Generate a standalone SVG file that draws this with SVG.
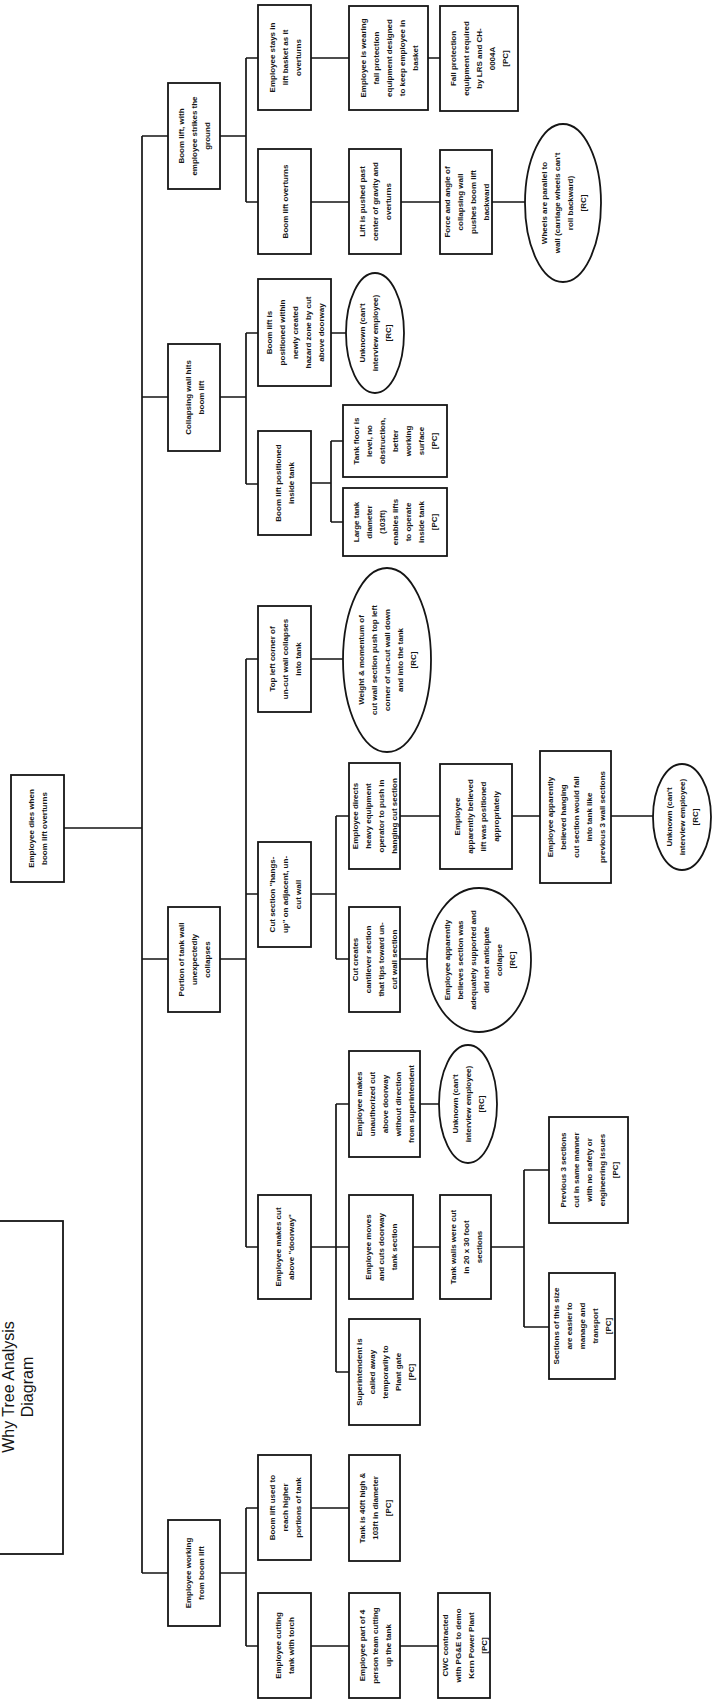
<svg xmlns="http://www.w3.org/2000/svg" width="712" height="1702" viewBox="0 0 712 1702">
<style>
.bg{fill:#fff}
.box{fill:#fff;stroke:#151515;stroke-width:1.8}
.c{fill:none;stroke:#151515;stroke-width:1.7}
.t{font-family:"Liberation Sans",Arial,sans-serif;font-weight:bold;font-size:8px;fill:#151515;text-anchor:middle}
.title{font-family:"Liberation Sans",Arial,sans-serif;font-size:16px;fill:#151515;text-anchor:middle}
</style>
<rect class="bg" x="0" y="0" width="712" height="1702"/>
<g id="connectors">
<path class="c" d="M142,136 V1573 M142,136 H168 M142,397 H168 M142,959 H168 M142,1573 H168 M64,828 H142"/>
<path class="c" d="M220,136 H246 M246,58 V202 M246,58 H258 M246,202 H258 M311,58 H349 M428,58 H440 M311,202 H349 M401,202 H440 M492,202 H525"/>
<path class="c" d="M220,397 H246 M246,333 V484 M246,333 H258 M246,484 H258 M331,333 H346 M311,483 H331 M331,441 V522 M331,441 H343 M331,522 H343"/>
<path class="c" d="M220,959 H246 M246,659 V1247 M246,659 H258 M246,894 H258 M246,1247 H258 M311,659 H343 M311,894 H336 M336,816 V959 M336,816 H349 M336,959 H349 M400,816 H440 M512,816 H540 M611,816 H653 M400,959 H427"/>
<path class="c" d="M311,1247 H349 M336,1104 V1372 M336,1104 H349 M336,1372 H349 M420,1104 H439 M413,1247 H440 M491,1247 H524 M524,1170 V1327 M524,1170 H549 M524,1327 H549"/>
<path class="c" d="M220,1573 H246 M246,1508 V1646 M246,1508 H258 M246,1646 H258 M311,1508 H349 M311,1646 H349 M400,1646 H438"/>
</g>
<g id="title">
<rect class="box" x="-5" y="1221" width="68" height="333"/>
<text class="title" transform="translate(0,1387) rotate(-90)"><tspan x="0" y="14">Why Tree Analysis</tspan><tspan x="0" y="33">Diagram</tspan></text>
</g>
<g id="root">
<rect class="box" x="11" y="775" width="53" height="107"/>
<text class="t" transform="translate(37.5,828.5) rotate(-90)"><tspan x="0" y="-3.5">Employee dies when</tspan><tspan x="0" y="9.5">boom lift overturns</tspan></text>
</g>
<g id="n-strikes-ground">
<rect class="box" x="168" y="83" width="52" height="106"/>
<text class="t" transform="translate(194,136) rotate(-90)"><tspan x="0" y="-10">Boom lift, with</tspan><tspan x="0" y="3">employee strikes the</tspan><tspan x="0" y="16">ground</tspan></text>
</g>
<g id="n-wall-hits">
<rect class="box" x="168" y="344" width="52" height="107"/>
<text class="t" transform="translate(194,397.5) rotate(-90)"><tspan x="0" y="-3.5">Collapsing wall hits</tspan><tspan x="0" y="9.5">boom lift</tspan></text>
</g>
<g id="n-wall-collapses">
<rect class="box" x="168" y="907" width="52" height="105"/>
<text class="t" transform="translate(194,959.5) rotate(-90)"><tspan x="0" y="-10">Portion of tank wall</tspan><tspan x="0" y="3">unexpectedly</tspan><tspan x="0" y="16">collapses</tspan></text>
</g>
<g id="n-working-lift">
<rect class="box" x="168" y="1520" width="52" height="106"/>
<text class="t" transform="translate(194,1573) rotate(-90)"><tspan x="0" y="-3.5">Employee working</tspan><tspan x="0" y="9.5">from boom lift</tspan></text>
</g>
<g id="n-stays-basket">
<rect class="box" x="258" y="5" width="53" height="105"/>
<text class="t" transform="translate(284.5,57.5) rotate(-90)"><tspan x="0" y="-10">Employee stays in</tspan><tspan x="0" y="3">lift basket as it</tspan><tspan x="0" y="16">overturns</tspan></text>
</g>
<g id="n-wearing-fp">
<rect class="box" x="349" y="6" width="79" height="104"/>
<text class="t" transform="translate(388.5,58) rotate(-90)"><tspan x="0" y="-23">Employee is wearing</tspan><tspan x="0" y="-10">fall protection</tspan><tspan x="0" y="3">equipment designed</tspan><tspan x="0" y="16">to keep employee in</tspan><tspan x="0" y="29">basket</tspan></text>
</g>
<g id="n-fp-required">
<rect class="box" x="440" y="6" width="78" height="105"/>
<text class="t" transform="translate(479,58.5) rotate(-90)"><tspan x="0" y="-23">Fall protection</tspan><tspan x="0" y="-10">equipment required</tspan><tspan x="0" y="3">by LRS and CH-</tspan><tspan x="0" y="16">0004A</tspan><tspan x="0" y="29">[PC]</tspan></text>
</g>
<g id="n-lift-overturns">
<rect class="box" x="258" y="149" width="53" height="105"/>
<text class="t" transform="translate(284.5,201.5) rotate(-90)"><tspan x="0" y="3">Boom lift overturns</tspan></text>
</g>
<g id="n-pushed-cog">
<rect class="box" x="349" y="149" width="52" height="105"/>
<text class="t" transform="translate(375,201.5) rotate(-90)"><tspan x="0" y="-10">Lift is pushed past</tspan><tspan x="0" y="3">center of gravity and</tspan><tspan x="0" y="16">overturns</tspan></text>
</g>
<g id="n-force-angle">
<rect class="box" x="440" y="150" width="52" height="104"/>
<text class="t" transform="translate(466,202) rotate(-90)"><tspan x="0" y="-16.5">Force and angle of</tspan><tspan x="0" y="-3.5">collapsing wall</tspan><tspan x="0" y="9.5">pushes boom lift</tspan><tspan x="0" y="22.5">backward</tspan></text>
</g>
<g id="n-wheels">
<ellipse class="box" cx="563" cy="203" rx="38" ry="79"/>
<text class="t" transform="translate(563,203) rotate(-90)"><tspan x="0" y="-16.5">Wheels are parallel to</tspan><tspan x="0" y="-3.5">wall (carriage wheels can't</tspan><tspan x="0" y="9.5">roll backward)</tspan><tspan x="0" y="22.5">[RC]</tspan></text>
</g>
<g id="n-hazard-zone">
<rect class="box" x="258" y="279" width="73" height="107"/>
<text class="t" transform="translate(294.5,332.5) rotate(-90)"><tspan x="0" y="-23">Boom lift is</tspan><tspan x="0" y="-10">positioned within</tspan><tspan x="0" y="3">newly created</tspan><tspan x="0" y="16">hazard zone by cut</tspan><tspan x="0" y="29">above doorway</tspan></text>
</g>
<g id="n-unknown-1">
<ellipse class="box" cx="375" cy="333" rx="29" ry="60"/>
<text class="t" transform="translate(375,333) rotate(-90)"><tspan x="0" y="-10">Unknown (can't</tspan><tspan x="0" y="3">interview employee)</tspan><tspan x="0" y="16">[RC]</tspan></text>
</g>
<g id="n-inside-tank">
<rect class="box" x="258" y="431" width="53" height="104"/>
<text class="t" transform="translate(284.5,483) rotate(-90)"><tspan x="0" y="-3.5">Boom lift positioned</tspan><tspan x="0" y="9.5">inside tank</tspan></text>
</g>
<g id="n-tank-floor">
<rect class="box" x="343" y="405" width="104" height="72"/>
<text class="t" transform="translate(395,441) rotate(-90)"><tspan x="0" y="-36">Tank floor is</tspan><tspan x="0" y="-23">level, no</tspan><tspan x="0" y="-10">obstruction,</tspan><tspan x="0" y="3">better</tspan><tspan x="0" y="16">working</tspan><tspan x="0" y="29">surface</tspan><tspan x="0" y="42">[PC]</tspan></text>
</g>
<g id="n-tank-diameter">
<rect class="box" x="343" y="488" width="104" height="68"/>
<text class="t" transform="translate(395,522) rotate(-90)"><tspan x="0" y="-36">Large tank</tspan><tspan x="0" y="-23">diameter</tspan><tspan x="0" y="-10">(103ft)</tspan><tspan x="0" y="3">enables lifts</tspan><tspan x="0" y="16">to operate</tspan><tspan x="0" y="29">inside tank</tspan><tspan x="0" y="42">[PC]</tspan></text>
</g>
<g id="n-top-left-corner">
<rect class="box" x="258" y="606" width="53" height="106"/>
<text class="t" transform="translate(284.5,659) rotate(-90)"><tspan x="0" y="-10">Top left corner of</tspan><tspan x="0" y="3">un-cut wall collapses</tspan><tspan x="0" y="16">into tank</tspan></text>
</g>
<g id="n-weight-momentum">
<ellipse class="box" cx="387" cy="660" rx="44" ry="92"/>
<text class="t" transform="translate(387,660) rotate(-90)"><tspan x="0" y="-23">Weight &amp; momentum of</tspan><tspan x="0" y="-10">cut wall section push top left</tspan><tspan x="0" y="3">corner of un-cut wall down</tspan><tspan x="0" y="16">and into the tank</tspan><tspan x="0" y="29">[RC]</tspan></text>
</g>
<g id="n-hangs-up">
<rect class="box" x="258" y="842" width="53" height="105"/>
<text class="t" transform="translate(284.5,894.5) rotate(-90)"><tspan x="0" y="-10">Cut section "hangs-</tspan><tspan x="0" y="3">up" on adjacent, un-</tspan><tspan x="0" y="16">cut wall</tspan></text>
</g>
<g id="n-directs-operator">
<rect class="box" x="349" y="763" width="51" height="106"/>
<text class="t" transform="translate(374.5,816) rotate(-90)"><tspan x="0" y="-16.5">Employee directs</tspan><tspan x="0" y="-3.5">heavy equipment</tspan><tspan x="0" y="9.5">operator to push in</tspan><tspan x="0" y="22.5">hanging cut section</tspan></text>
</g>
<g id="n-believed-lift">
<rect class="box" x="440" y="764" width="72" height="105"/>
<text class="t" transform="translate(476,816.5) rotate(-90)"><tspan x="0" y="-16.5">Employee</tspan><tspan x="0" y="-3.5">apparently believed</tspan><tspan x="0" y="9.5">lift was positioned</tspan><tspan x="0" y="22.5">appropriately</tspan></text>
</g>
<g id="n-believed-fall">
<rect class="box" x="540" y="751" width="71" height="132"/>
<text class="t" transform="translate(575.5,817) rotate(-90)"><tspan x="0" y="-23">Employee apparently</tspan><tspan x="0" y="-10">believed hanging</tspan><tspan x="0" y="3">cut section would fall</tspan><tspan x="0" y="16">into tank like</tspan><tspan x="0" y="29">previous 3 wall sections</tspan></text>
</g>
<g id="n-unknown-2">
<ellipse class="box" cx="682" cy="817" rx="29" ry="53"/>
<text class="t" transform="translate(682,817) rotate(-90)"><tspan x="0" y="-10">Unknown (can't</tspan><tspan x="0" y="3">interview employee)</tspan><tspan x="0" y="16">[RC]</tspan></text>
</g>
<g id="n-cantilever">
<rect class="box" x="349" y="907" width="51" height="105"/>
<text class="t" transform="translate(374.5,959.5) rotate(-90)"><tspan x="0" y="-16.5">Cut creates</tspan><tspan x="0" y="-3.5">cantilever section</tspan><tspan x="0" y="9.5">that tips toward un-</tspan><tspan x="0" y="22.5">cut wall section</tspan></text>
</g>
<g id="n-believes-supported">
<ellipse class="box" cx="479" cy="960" rx="52" ry="72"/>
<text class="t" transform="translate(479,960) rotate(-90)"><tspan x="0" y="-29.5">Employee apparently</tspan><tspan x="0" y="-16.5">believes section was</tspan><tspan x="0" y="-3.5">adequately supported and</tspan><tspan x="0" y="9.5">did not anticipate</tspan><tspan x="0" y="22.5">collapse</tspan><tspan x="0" y="35.5">[RC]</tspan></text>
</g>
<g id="n-cut-doorway">
<rect class="box" x="258" y="1195" width="53" height="104"/>
<text class="t" transform="translate(284.5,1247) rotate(-90)"><tspan x="0" y="-3.5">Employee makes cut</tspan><tspan x="0" y="9.5">above "doorway"</tspan></text>
</g>
<g id="n-unauthorized">
<rect class="box" x="349" y="1051" width="71" height="106"/>
<text class="t" transform="translate(384.5,1104) rotate(-90)"><tspan x="0" y="-23">Employee makes</tspan><tspan x="0" y="-10">unauthorized cut</tspan><tspan x="0" y="3">above doorway</tspan><tspan x="0" y="16">without direction</tspan><tspan x="0" y="29">from superintendent</tspan></text>
</g>
<g id="n-unknown-3">
<ellipse class="box" cx="468" cy="1104" rx="29" ry="59"/>
<text class="t" transform="translate(468,1104) rotate(-90)"><tspan x="0" y="-10">Unknown (can't</tspan><tspan x="0" y="3">interview employee)</tspan><tspan x="0" y="16">[RC]</tspan></text>
</g>
<g id="n-moves-cuts">
<rect class="box" x="349" y="1195" width="64" height="104"/>
<text class="t" transform="translate(381,1247) rotate(-90)"><tspan x="0" y="-10">Employee moves</tspan><tspan x="0" y="3">and cuts doorway</tspan><tspan x="0" y="16">tank section</tspan></text>
</g>
<g id="n-walls-cut">
<rect class="box" x="440" y="1195" width="51" height="104"/>
<text class="t" transform="translate(465.5,1247) rotate(-90)"><tspan x="0" y="-10">Tank walls were cut</tspan><tspan x="0" y="3">in 20 x 30 foot</tspan><tspan x="0" y="16">sections</tspan></text>
</g>
<g id="n-previous-3">
<rect class="box" x="549" y="1117" width="79" height="106"/>
<text class="t" transform="translate(588.5,1170) rotate(-90)"><tspan x="0" y="-23">Previous 3 sections</tspan><tspan x="0" y="-10">cut in same manner</tspan><tspan x="0" y="3">with no safety or</tspan><tspan x="0" y="16">engineering issues</tspan><tspan x="0" y="29">[PC]</tspan></text>
</g>
<g id="n-size-easier">
<rect class="box" x="549" y="1273" width="66" height="106"/>
<text class="t" transform="translate(582,1326) rotate(-90)"><tspan x="0" y="-23">Sections of this size</tspan><tspan x="0" y="-10">are easier to</tspan><tspan x="0" y="3">manage and</tspan><tspan x="0" y="16">transport</tspan><tspan x="0" y="29">[PC]</tspan></text>
</g>
<g id="n-superintendent">
<rect class="box" x="349" y="1319" width="71" height="106"/>
<text class="t" transform="translate(384.5,1372) rotate(-90)"><tspan x="0" y="-23">Superintendent is</tspan><tspan x="0" y="-10">called away</tspan><tspan x="0" y="3">temporarily to</tspan><tspan x="0" y="16">Plant gate</tspan><tspan x="0" y="29">[PC]</tspan></text>
</g>
<g id="n-reach-higher">
<rect class="box" x="258" y="1455" width="53" height="105"/>
<text class="t" transform="translate(284.5,1507.5) rotate(-90)"><tspan x="0" y="-10">Boom lift used to</tspan><tspan x="0" y="3">reach higher</tspan><tspan x="0" y="16">portions of tank</tspan></text>
</g>
<g id="n-tank-40ft">
<rect class="box" x="349" y="1455" width="51" height="106"/>
<text class="t" transform="translate(374.5,1508) rotate(-90)"><tspan x="0" y="-10">Tank is 40ft high &amp;</tspan><tspan x="0" y="3">103ft in diameter</tspan><tspan x="0" y="16">[PC]</tspan></text>
</g>
<g id="n-cutting-torch">
<rect class="box" x="258" y="1593" width="53" height="105"/>
<text class="t" transform="translate(284.5,1645.5) rotate(-90)"><tspan x="0" y="-3.5">Employee cutting</tspan><tspan x="0" y="9.5">tank with torch</tspan></text>
</g>
<g id="n-team">
<rect class="box" x="349" y="1593" width="51" height="105"/>
<text class="t" transform="translate(374.5,1645.5) rotate(-90)"><tspan x="0" y="-10">Employee part of 4</tspan><tspan x="0" y="3">person team cutting</tspan><tspan x="0" y="16">up the tank</tspan></text>
</g>
<g id="n-cwc">
<rect class="box" x="438" y="1593" width="52" height="105"/>
<text class="t" transform="translate(464,1645.5) rotate(-90)"><tspan x="0" y="-16.5">CWC contracted</tspan><tspan x="0" y="-3.5">with PG&amp;E to demo</tspan><tspan x="0" y="9.5">Kern Power Plant</tspan><tspan x="0" y="22.5">[PC]</tspan></text>
</g>
</svg>
